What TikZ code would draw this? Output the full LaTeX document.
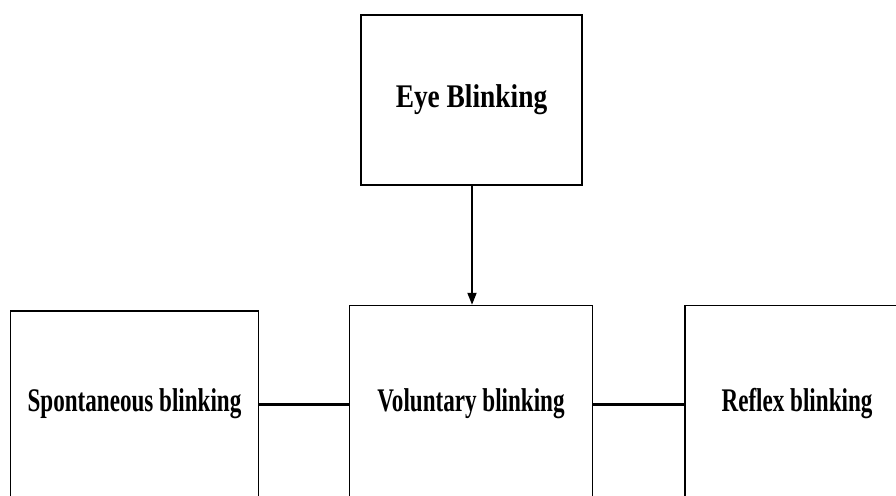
\documentclass[tikz,border=0pt]{standalone}
\usepackage{fontspec}
\setmainfont{Liberation Serif}
\newfontfamily\boxfont[FakeStretch=0.70]{Liberation Serif}
\newfontfamily\topfont[FakeStretch=0.83]{Liberation Serif}
\usetikzlibrary{arrows.meta,positioning,calc}
\tikzset{
  nodebox/.style={draw=black, line width=1.5pt, fill=white, align=center, inner sep=2pt},
  toptxt/.style={font=\topfont\bfseries\fontsize{33}{36}\selectfont},
  bottxt/.style={font=\boxfont\bfseries\fontsize{33}{36}\selectfont},
  edge/.style={-{Triangle[length=12pt,width=9pt]}, line width=1.8pt},
  link/.style={line width=3pt},
}
\begin{document}
\begin{tikzpicture}[x=1pt, y=-1pt]
  \useasboundingbox (0,0) rectangle (896,495);
  \clip (0,0) rectangle (896,495);

  %% ---- top box ----
  \node[nodebox, toptxt, minimum width=221pt, minimum height=170pt] (eye) at (471.5,100) {Eye Blinking};

  %% ---- bottom row (boxes run past the lower edge) ----
  \node[nodebox, bottxt, minimum width=243pt, minimum height=197pt] (vol) at (471,404) {Voluntary blinking};
  \node[nodebox, bottxt, minimum width=248pt, minimum height=186pt] (spon) at (134.5,404) {Spontaneous blinking};
  \node[nodebox, bottxt, minimum width=224pt, minimum height=197pt] (refl) at (797,404) {Reflex blinking};

  \draw[edge] (eye.south -| 472,0) -- (vol.north -| 472,0);
  \draw[link] (spon.east) -- (vol.west);
  \draw[link] (vol.east) -- (refl.west);

\end{tikzpicture}
\end{document}
